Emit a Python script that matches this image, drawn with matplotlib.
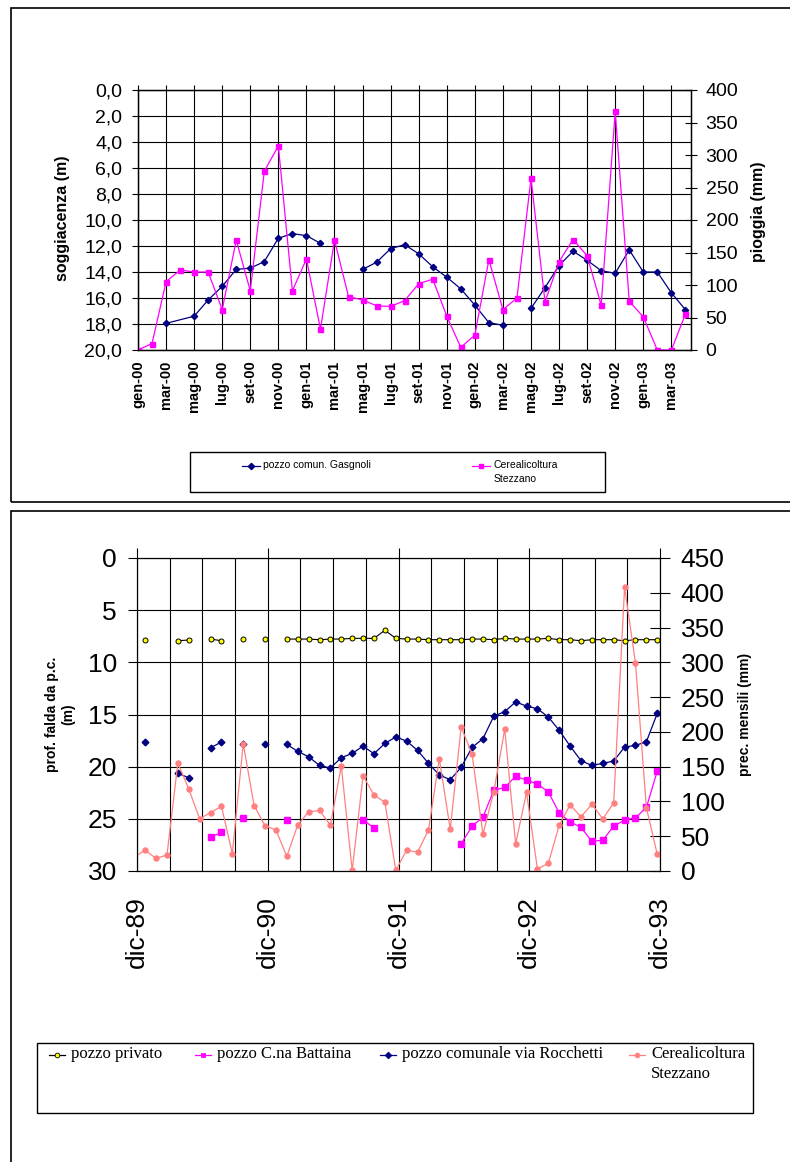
import matplotlib

matplotlib.use("Agg")
import matplotlib.pyplot as plt
import matplotlib.ticker as mticker
from matplotlib.patches import Rectangle
from matplotlib.lines import Line2D
import numpy as np

plt.rcParams["font.family"] = ["Liberation Sans", "DejaVu Sans"]

W, H = 790, 1162

NAN = np.nan

# ---- top chart: gen-00 .. apr-03, monthly ----
TOP_MONTHS = np.arange(40)
TOP_LABELS = [
    "gen-00", "mar-00", "mag-00", "lug-00", "set-00", "nov-00",
    "gen-01", "mar-01", "mag-01", "lug-01", "set-01", "nov-01",
    "gen-02", "mar-02", "mag-02", "lug-02", "set-02", "nov-02",
    "gen-03", "mar-03",
]
RAIN_TOP = [
    0, 10, 105, 123, 120, 120, 62, 169, 91, 275, 314, 91, 140, 32, 169, 82,
    77, 68, 67, 76, 102, 109, 52, 4, 23, 139, 62, 80, 264, 74, 136, 170,
    145, 69, 367, 75, 51, 0, 0, 55,
]
GASGNOLI_MONTHS = [
    2, 4, 5, 6, 7, 8, 9, 10, 11, 12, 13, 14, 16, 17, 18, 19, 20, 21, 22, 23,
    24, 25, 26, 27, 28, 29, 30, 31, 32, 33, 34, 35, 36, 37, 38, 39,
]
GASGNOLI = [
    17.95, 17.4, 16.15, 15.1, 13.8, 13.7, 13.2, 11.4, 11.05, 11.2, 11.8, NAN,
    13.8, 13.25, 12.2, 11.9, 12.6, 13.6, 14.4, 15.3, 16.55, 17.9, 18.1, NAN,
    16.8, 15.2, 13.5, 12.4, 13.1, 13.9, 14.1, 12.3, 14.0, 14.0, 15.6, 16.9,
]

# ---- bottom chart: dic-89 .. dic-93, monthly ----
BOT_MONTHS = np.arange(49)
BOT_LABELS = ["dic-89", "dic-90", "dic-91", "dic-92", "dic-93"]
PRIVATO = [
    NAN, 7.86, NAN, NAN, 7.93, 7.86, NAN, 7.77, 7.93, NAN, 7.77, NAN, 7.77,
    NAN, 7.77, 7.77, 7.77, 7.83, 7.77, 7.77, 7.7, 7.7, 7.7, 6.93, 7.7, 7.77,
    7.77, 7.83, 7.83, 7.83, 7.83, 7.77, 7.77, 7.83, 7.7, 7.77, 7.77, 7.77,
    7.7, 7.83, 7.83, 7.93, 7.83, 7.83, 7.83, 7.93, 7.83, 7.83, 7.83,
]
BATTAINA = [
    NAN, NAN, NAN, NAN, NAN, NAN, NAN, 26.75, 26.3, NAN, 24.96, NAN, NAN,
    NAN, 25.12, NAN, NAN, NAN, NAN, NAN, NAN, 25.09, 25.89, NAN, NAN, NAN,
    NAN, NAN, NAN, NAN, 27.38, 25.72, 24.83, 22.27, 21.99, 20.93, 21.28,
    21.67, 22.41, 24.45, 25.28, 25.82, 27.16, 27.04, 25.7, 25.12, 24.9,
    23.91, 20.43,
]
ROCCHETTI = [
    NAN, 17.6, NAN, NAN, 20.65, 21.06, NAN, 18.19, 17.64, NAN, 17.87, NAN,
    17.87, NAN, 17.87, 18.53, 19.05, 19.88, 20.13, 19.14, 18.73, 18.03,
    18.76, 17.77, 17.16, 17.55, 18.44, 19.68, 20.8, 21.25, 20.07, 18.15,
    17.32, 15.15, 14.73, 13.8, 14.19, 14.45, 15.24, 16.52, 18.02, 19.43,
    19.88, 19.68, 19.46, 18.12, 17.96, 17.61, 14.89,
]
RAIN_BOT = [
    20, 30, 18, 23, 155, 118, 75, 84, 93, 25, 183, 94, 65, 59, 21, 66, 85,
    87, 66, 151, 1, 137, 109, 99, 1, 30, 27, 59, 161, 60, 207, 168, 53, 114,
    204, 39, 113, 3, 11, 66, 95, 78, 96, 75, 98, 408, 299, 91, 24,
]
DATE_SHIFT = -0.25  # readings taken late in the previous month

NAVY = "#000080"
MAGENTA = "#ff00ff"
SALMON = "#ff8080"
YELLOW = "#ffff00"


def fx(px):
    return px / W


def fy(py):
    return 1 - py / H


def box(x0, y0, x1, y1, lw=1.0):
    fig.patches.append(
        Rectangle((fx(x0), fy(y1)), fx(x1) - fx(x0), fy(y0) - fy(y1),
                  transform=fig.transFigure, fill=False, edgecolor="black",
                  linewidth=lw, clip_on=False)
    )


fig = plt.figure(figsize=(W / 100, H / 100), dpi=100)
fig.patch.set_facecolor("white")

# outer frames of the two pasted charts
box(11, 8, 800, 502, lw=1.2)
box(11, 511, 800, 1175, lw=1.2)

# ================= top chart =================
ax1 = fig.add_axes([fx(138), fy(350), fx(691) - fx(138), (350 - 90) / H])
ax1.set_xlim(0, 39.4)
ax1.set_ylim(20, 0)
ax1.set_yticks(np.arange(0, 21, 2))
ax1.yaxis.set_major_formatter(
    mticker.FuncFormatter(lambda v, _: f"{v:.1f}".replace(".", ","))
)
ax1.set_xticks(np.arange(0, 40, 2))
ax1.set_xticklabels(TOP_LABELS, rotation=90, fontsize=10.5, fontweight="bold")
ax1.tick_params(axis="x", top=True, bottom=False, labeltop=False,
                labelbottom=True, direction="out", length=3.6, pad=4)
ax1.tick_params(axis="y", direction="out", length=4.3, labelsize=14, pad=7)
ax1.grid(True, color="black", linewidth=0.8)
ax1.set_axisbelow(True)
for s in ax1.spines.values():
    s.set_linewidth(1.0)

ax1.plot(GASGNOLI_MONTHS, GASGNOLI, color=NAVY, linewidth=0.9, marker="D",
         markersize=3.2, markerfacecolor=NAVY, markeredgecolor=NAVY)

ax2 = ax1.twinx()
ax2.set_ylim(0, 400)
ax2.set_yticks(np.arange(0, 401, 50))
ax2.tick_params(axis="y", direction="inout", length=9, labelsize=14, pad=6)
ax2.plot(TOP_MONTHS, RAIN_TOP, color=MAGENTA, linewidth=0.9, marker="s",
         markersize=3.6, markerfacecolor=MAGENTA, markeredgecolor=MAGENTA)

fig.text(fx(62), fy(218), "soggiacenza (m)", rotation=90, ha="center",
         va="center", fontsize=11.5, fontweight="bold")
fig.text(fx(758), fy(212), "pioggia (mm)", rotation=90, ha="center",
         va="center", fontsize=11.5, fontweight="bold")

# top legend
box(190, 452, 605, 492, lw=1.0)
for (hx, tx, lab, col, mk) in [
    (242, 263, "pozzo comun. Gasgnoli", NAVY, "D"),
    (472, 494, "Cerealicoltura\nStezzano", MAGENTA, "s"),
]:
    fig.lines.append(Line2D([fx(hx), fx(hx + 18)], [fy(466), fy(466)],
                            transform=fig.transFigure, color=col,
                            linewidth=0.9))
    fig.lines.append(Line2D([fx(hx + 9)], [fy(466)], transform=fig.transFigure,
                            marker=mk, markersize=3.2, color=col))
    fig.text(fx(tx), fy(460), lab, ha="left", va="top", fontsize=7.5,
             linespacing=1.5)

# ================= bottom chart =================
ax3 = fig.add_axes([fx(137), fy(871), fx(660) - fx(137), (871 - 558) / H])
ax3.set_xlim(0, 48)
ax3.set_ylim(30, 0)
ax3.set_yticks(np.arange(0, 31, 5))
ax3.set_xticks(np.arange(0, 49, 12))
ax3.set_xticklabels(BOT_LABELS, rotation=90, fontsize=19)
ax3.xaxis.set_minor_locator(mticker.MultipleLocator(3))
ax3.tick_params(axis="x", which="major", top=True, bottom=False,
                labeltop=False, labelbottom=True, direction="out",
                length=7, pad=11)
ax3.tick_params(axis="x", which="minor", top=False, bottom=False, length=0)
ax3.tick_params(axis="y", direction="out", length=6.5, labelsize=19, pad=8)
ax3.grid(True, which="both", axis="x", color="black", linewidth=0.8)
ax3.grid(True, which="major", axis="y", color="black", linewidth=0.8)
ax3.set_axisbelow(True)

xb = BOT_MONTHS + DATE_SHIFT
ax3.plot(xb, PRIVATO, color="black", linewidth=0.8, marker="o",
         markersize=3.6, markerfacecolor=YELLOW, markeredgecolor="black",
         markeredgewidth=0.7, zorder=4)
ax3.plot(xb, BATTAINA, color=MAGENTA, linewidth=0.9, marker="s",
         markersize=3.8, markerfacecolor=MAGENTA, markeredgecolor=MAGENTA,
         zorder=3)
ax3.plot(xb, ROCCHETTI, color=NAVY, linewidth=0.9, marker="D",
         markersize=3.4, markerfacecolor=NAVY, markeredgecolor=NAVY,
         zorder=3)

ax4 = ax3.twinx()
ax4.set_ylim(0, 450)
ax4.set_yticks(np.arange(0, 451, 50))
ax4.tick_params(axis="y", direction="inout", length=14, labelsize=19, pad=8)
ax4.plot(xb, RAIN_BOT, color=SALMON, linewidth=0.9, marker="o",
         markersize=3.6, markerfacecolor=SALMON, markeredgecolor=SALMON)

fig.text(fx(60), fy(714), "prof. falda da p.c.\n(m)", rotation=90,
         ha="center", va="center", fontsize=10, fontweight="bold",
         multialignment="center")
fig.text(fx(745), fy(714), "prec. mensili (mm)", rotation=90, ha="center",
         va="center", fontsize=10, fontweight="bold")

# bottom legend
box(37, 1043, 753, 1113, lw=1.0)
for (hx, tx, lab, col, mk, fc) in [
    (49, 71, "pozzo privato", "black", "o", YELLOW),
    (195, 217, "pozzo C.na Battaina", MAGENTA, "s", MAGENTA),
    (380, 402, "pozzo comunale via Rocchetti", NAVY, "D", NAVY),
    (629, 651, "Cerealicoltura\nStezzano", SALMON, "o", SALMON),
]:
    edge = "black" if fc == YELLOW else fc
    fig.lines.append(Line2D([fx(hx), fx(hx + 16)], [fy(1055), fy(1055)],
                            transform=fig.transFigure, color=col,
                            linewidth=0.9))
    fig.lines.append(Line2D([fx(hx + 8)], [fy(1055)],
                            transform=fig.transFigure, marker=mk,
                            markersize=3.4, markerfacecolor=fc,
                            markeredgecolor=edge, markeredgewidth=0.6,
                            color=col))
    fig.text(fx(tx), fy(1046), lab, ha="left", va="top", fontsize=12,
             family=["Liberation Serif", "DejaVu Serif"], linespacing=1.3)

fig.savefig("out.png", dpi=100, facecolor="white")
